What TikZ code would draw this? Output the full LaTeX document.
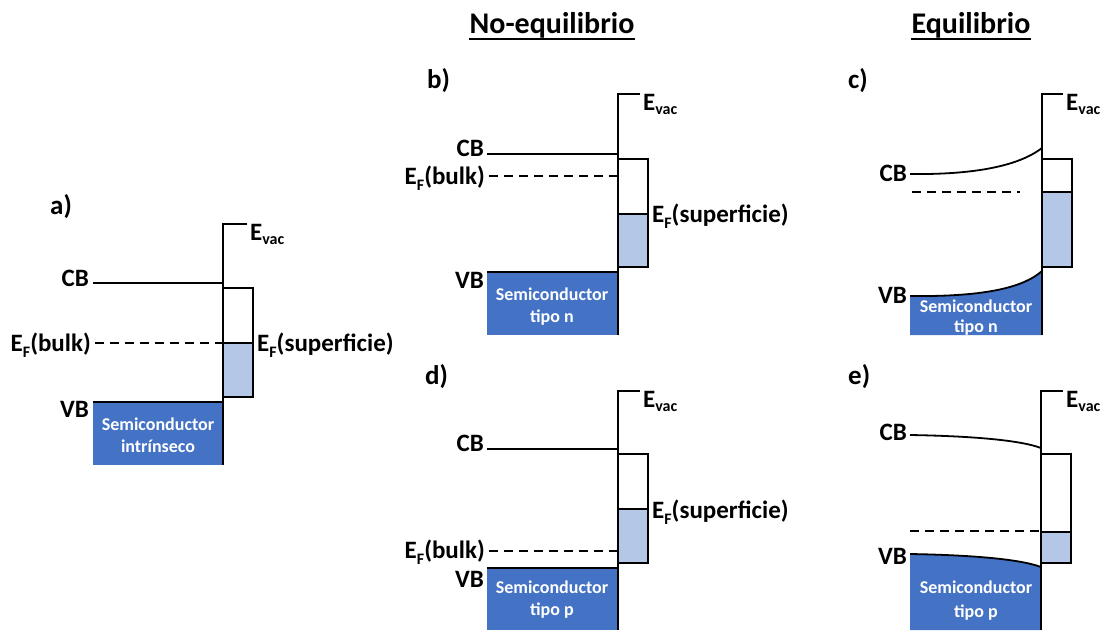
\documentclass[tikz,border=0pt]{standalone}
\usepackage{fontspec}
\setmainfont{Carlito}
\definecolor{bulkblue}{HTML}{4472C4}
\definecolor{surfblue}{HTML}{B4C7E7}
% lowered subscript in text fonts
\newcommand{\lowsub}[2]{\raisebox{-#1}{\fontsize{16}{16}\selectfont #2}}
\begin{document}
\begin{tikzpicture}[x=1pt,y=-1pt,
  level/.style={line width=1.8pt},
  fermi/.style={line width=1.8pt, dash pattern=on 9pt off 6pt},
  surf/.style={line width=2.8pt},
  lbl/.style={font=\fontsize{25}{30}\selectfont\bfseries, inner sep=0pt},
  tag/.style={font=\fontsize{27}{30}\selectfont\bfseries, inner sep=0pt, anchor=base west},
  hdr/.style={font=\fontsize{30}{36}\selectfont\bfseries, inner sep=0pt, anchor=base},
  semi/.style={font=\fontsize{18}{22}\selectfont\bfseries, text=white, inner sep=0pt, anchor=base}]
\useasboundingbox (0,0) rectangle (1111,630);

% ---------- headers ----------
\node[hdr] (hne) at (552,33) {No-equilibrio};
\node[hdr] (heq) at (971,33) {Equilibrio};
\draw[line width=2pt] ([yshift=-6pt]hne.base west) -- ([yshift=-6pt]hne.base east);
\draw[line width=2pt] ([yshift=-6pt]heq.base west) -- ([yshift=-6pt]heq.base east);

% ---------- a) intrinsic ----------
\node[tag] (ta) at (50,214) {a)};
\fill[bulkblue] (93,402) rectangle (223,465);
\fill[surfblue] (223,343) rectangle (253,397);
\draw[level] (93,283) -- (223,283);
\draw[level] (93,402) -- (223,402);
\draw[fermi] (95,343) -- (223,343);
\draw[level] (223,288) rectangle (253,397);
\draw[surf] (223,343) -- (253,343);
\draw[level] (247,224) -- (223,224) -- (223,465);
\node[lbl, anchor=base west] (evaca) at (250,240) {E\lowsub{4pt}{vac}};
\node[lbl, anchor=base east] (cba) at (89,286) {CB};
\node[lbl, anchor=base east] (vba) at (89,417) {VB};
\node[lbl, anchor=base east] (efba) at (91,351) {E\lowsub{6pt}{F}(bulk)};
\node[lbl, anchor=base west] (efsa) at (257,351) {E\lowsub{6pt}{F}(superficie)};
\node[semi] (sa1) at (158,430) {Semiconductor};
\node[semi] (sa2) at (158,452) {intrínseco};

% ---------- b) n-type, no equilibrium ----------
\node[tag] (tb) at (427,88) {b)};
\fill[bulkblue] (487,272) rectangle (618,335);
\fill[surfblue] (618,214) rectangle (648,267);
\draw[level] (487,154) -- (618,154);
\draw[level] (487,272) -- (618,272);
\draw[fermi] (489,176) -- (618,176);
\draw[level] (618,159) rectangle (648,267);
\draw[surf] (618,214) -- (648,214);
\draw[level] (640,94) -- (618,94) -- (618,335);
\node[lbl, anchor=base west] (evacb) at (643,110) {E\lowsub{4pt}{vac}};
\node[lbl, anchor=base east] (cbb) at (484,156) {CB};
\node[lbl, anchor=base east] (vbb) at (484,288) {VB};
\node[lbl, anchor=base east] (efbb) at (485,184) {E\lowsub{6pt}{F}(bulk)};
\node[lbl, anchor=base west] (efsb) at (652,222) {E\lowsub{6pt}{F}(superficie)};
\node[semi] (sb1) at (552,300) {Semiconductor};
\node[semi] (sb2) at (552,322) {tipo n};

% ---------- d) p-type, no equilibrium ----------
\node[tag] (td) at (425,384) {d)};
\fill[bulkblue] (487,568) rectangle (618,630);
\fill[surfblue] (618,509) rectangle (648,563);
\draw[level] (487,449) -- (618,449);
\draw[level] (487,568) -- (618,568);
\draw[fermi] (489,551) -- (618,551);
\draw[level] (618,454) rectangle (648,563);
\draw[surf] (618,509) -- (648,509);
\draw[level] (640,391) -- (618,391) -- (618,630);
\node[lbl, anchor=base west] (evacd) at (643,407) {E\lowsub{4pt}{vac}};
\node[lbl, anchor=base east] (cbd) at (484,451) {CB};
\node[lbl, anchor=base east] (vbd) at (484,587) {VB};
\node[lbl, anchor=base east] (efbd) at (485,558) {E\lowsub{6pt}{F}(bulk)};
\node[lbl, anchor=base west] (efsd) at (652,518) {E\lowsub{6pt}{F}(superficie)};
\node[semi] (sd1) at (552,593) {Semiconductor};
\node[semi] (sd2) at (552,615) {tipo p};

% ---------- c) n-type, equilibrium (upward bending) ----------
\node[tag] (tc) at (848,88) {c)};
\fill[bulkblue] (910,296) .. controls (990,297) and (1025,286) .. (1042,271)
  -- (1042,335) -- (910,335) -- cycle;
\fill[surfblue] (1042,192) rectangle (1072,267);
\draw[level] (910,174) .. controls (990,175) and (1025,161) .. (1042,148);
\draw[level] (910,296) .. controls (990,297) and (1025,286) .. (1042,271);
\draw[fermi] (912,192) -- (1020,192);
\draw[level] (1042,159) rectangle (1072,267);
\draw[surf] (1042,192) -- (1072,192);
\draw[level] (1063,94) -- (1042,94) -- (1042,335);
\node[lbl, anchor=base west] (evacc) at (1066,110) {E\lowsub{4pt}{vac}};
\node[lbl, anchor=base east] (cbc) at (907,181) {CB};
\node[lbl, anchor=base east] (vbc) at (907,303) {VB};
\node[semi] (sc1) at (976,312) {Semiconductor};
\node[semi] (sc2) at (976,332) {tipo n};

% ---------- e) p-type, equilibrium (downward bending) ----------
\node[tag] (te) at (848,384) {e)};
\fill[bulkblue] (910,554) .. controls (970,555) and (1020,559) .. (1041,567)
  -- (1041,630) -- (910,630) -- cycle;
\fill[surfblue] (1041,532) rectangle (1071,563);
\draw[level] (910,435) .. controls (970,436) and (1020,440) .. (1041,448);
\draw[level] (910,554) .. controls (970,555) and (1020,559) .. (1041,567);
\draw[fermi] (910,531) -- (1041,531);
\draw[level] (1041,454) rectangle (1071,563);
\draw[surf] (1041,532) -- (1071,532);
\draw[level] (1063,391) -- (1041,391) -- (1041,630);
\node[lbl, anchor=base west] (evace) at (1066,407) {E\lowsub{4pt}{vac}};
\node[lbl, anchor=base east] (cbe) at (907,440) {CB};
\node[lbl, anchor=base east] (vbe) at (907,564) {VB};
\node[semi] (se1) at (976,593) {Semiconductor};
\node[semi] (se2) at (976,617) {tipo p};
\end{tikzpicture}
\end{document}
